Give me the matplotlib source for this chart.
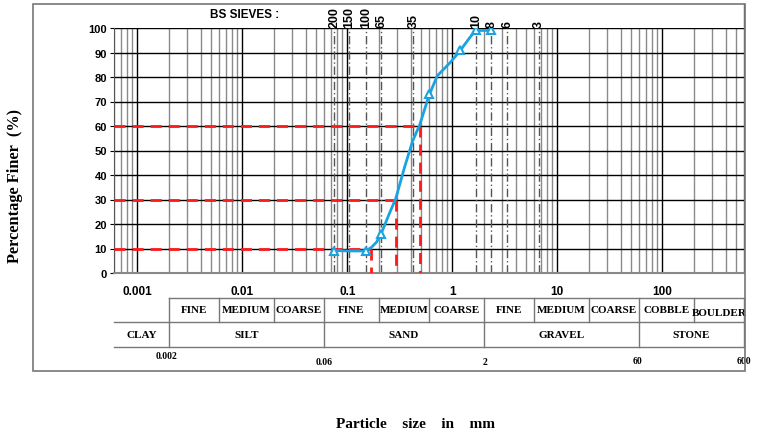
import matplotlib.pyplot as plt
import matplotlib.transforms as mtransforms
from matplotlib.patches import Rectangle
from matplotlib.ticker import LogLocator, NullFormatter, FixedLocator

# grading curve
curve_size = [0.075, 0.1, 0.15, 0.17, 0.19, 0.21, 0.25, 0.29, 0.35, 0.42, 0.49,
              0.6, 0.72, 0.96, 1.2, 1.48, 1.68, 2.36]
curve_pct = [9.2, 9.0, 9.0, 10.5, 12.6, 16.0, 24.0, 30.5, 43.0, 54.0, 60.5,
             72.5, 80.5, 86.0, 91.0, 96.3, 99.0, 99.0]

# test points (triangles)
test_size = [0.075, 0.15, 0.21, 0.6, 1.18, 1.68, 2.36]
test_pct = [9.0, 9.0, 16.0, 73.0, 91.0, 99.0, 99.0]

# BS sieves
sieve_names = ['200', '150', '100', '65', '35', '10', '8', '6', '3']
sieve_size = [0.075, 0.104, 0.152, 0.21, 0.425, 1.68, 2.36, 3.35, 6.7]

# D10, D30, D60
d_pct = [10, 30, 60]
d_size = [0.167, 0.29, 0.49]

x_ticks = [0.001, 0.01, 0.1, 1, 10, 100]
x_ticklabels = ['0.001', '0.01', '0.1', '1', '10', '100']

# classification table
sub_edges = [0.002, 0.006, 0.02, 0.06, 0.2, 0.6, 2, 6, 20, 60, 200, 600]
sub_names = ['FINE', 'MEDIUM', 'COARSE', 'FINE', 'MEDIUM', 'COARSE',
             'FINE', 'MEDIUM', 'COARSE', 'COBBLE', 'BOULDER']
main_edges = [0.0006, 0.002, 0.06, 2, 60, 600]
main_names = ['CLAY', 'SILT', 'SAND', 'GRAVEL', 'STONE']
bound_labels = ['0.002', '0.06', '2', '60', '600']

W, H = 762, 435
fig = plt.figure(figsize=(W / 100, H / 100), dpi=100)
ax = fig.add_axes([114 / W, 1 - 274 / H, 630 / W, 245 / H])

# outer frame
fig.patches.append(Rectangle((33 / W, 1 - 372 / H), 712 / W, 367 / H,
                             transform=fig.transFigure, fill=False,
                             edgecolor='#777777', linewidth=1.2))

ax.set_xscale('log')
ax.set_xlim(0.0006, 600)
ax.set_ylim(0, 100)

ax.xaxis.set_minor_locator(LogLocator(base=10, subs=range(2, 10), numticks=30))
ax.xaxis.set_minor_formatter(NullFormatter())
ax.xaxis.set_major_locator(FixedLocator(x_ticks))
ax.set_xticklabels(x_ticklabels, fontsize=8.5, fontweight='bold',
                   family='Liberation Sans')
ax.tick_params(axis='x', which='both', length=0, pad=9)
ax.set_yticks(range(0, 101, 10))
ax.set_yticklabels([str(v) for v in range(0, 101, 10)], fontsize=8,
                   fontweight='bold', family='Liberation Sans')
ax.tick_params(axis='y', length=3, pad=2)

ax.grid(which='major', axis='y', color='black', linewidth=1)
ax.grid(which='major', axis='x', color='black', linewidth=1)
ax.grid(which='minor', axis='x', color='#8a8a8a', linewidth=1)
ax.set_axisbelow(True)

ax.spines['top'].set_visible(False)
ax.spines['bottom'].set_color('#888888')
ax.spines['bottom'].set_linewidth(1.5)
ax.spines['left'].set_color('#555555')
ax.spines['right'].set_color('#555555')

bt = mtransforms.blended_transform_factory(ax.transData, ax.transAxes)

# right border going up to the frame
ax.plot([600, 600], [1.0, 1.098], transform=bt, color='#555555',
        linewidth=1, clip_on=False)

# sieve lines and labels
for name, s in zip(sieve_names, sieve_size):
    ax.plot([s, s], [0, 100], color='#555555', linewidth=1,
            linestyle=(0, (6, 2, 1, 2)), zorder=2)
    ax.text(s, 1.003, name, transform=bt, rotation=90, ha='center',
            va='bottom', fontsize=9, fontweight='bold',
            family='Liberation Sans')
ax.text(0.208, 1.057, 'BS SIEVES :', transform=ax.transAxes, ha='center',
        va='center', fontsize=8.5, fontweight='bold', family='Liberation Sans')

# D lines
for p, d in zip(d_pct, d_size):
    ax.plot([0.0006, d], [p, p], color='#ff1a1a', linewidth=2,
            linestyle=(0, (4, 2.5)), zorder=3)
    ax.plot([d, d], [p, 0], color='#ff1a1a', linewidth=2,
            linestyle=(0, (4, 2.5)), zorder=3)

# grading curve
ax.plot(curve_size, curve_pct, color='#1aa3e0', linewidth=2, zorder=4)
ax.plot(test_size, test_pct, linestyle='none', marker='^', markersize=6,
        markerfacecolor='white', markeredgecolor='#1aa3e0',
        markeredgewidth=1.5, zorder=5)

# classification table
y1, y2, y3 = -0.102, -0.200, -0.302
lc = '#777777'
ax.plot([sub_edges[0], sub_edges[-1]], [y1, y1], transform=bt, color=lc,
        linewidth=1, clip_on=False)
ax.plot([main_edges[0], main_edges[-1]], [y2, y2], transform=bt, color=lc,
        linewidth=1, clip_on=False)
ax.plot([main_edges[0], main_edges[-1]], [y3, y3], transform=bt, color=lc,
        linewidth=1, clip_on=False)
for e in sub_edges:
    ax.plot([e, e], [y1, y2], transform=bt, color=lc, linewidth=1,
            clip_on=False)
for e in main_edges[1:]:
    ax.plot([e, e], [y2, y3], transform=bt, color=lc, linewidth=1,
            clip_on=False)

tkw = dict(transform=bt, ha='center', va='center', fontsize=8,
           fontweight='bold', family='Liberation Serif', clip_on=False)
for i, name in enumerate(sub_names):
    xc = (sub_edges[i] * sub_edges[i + 1]) ** 0.5
    yy = (y1 + y2) / 2 - (0.01 if name == 'BOULDER' else 0)
    ax.text(xc, yy, name, **tkw)
for i, name in enumerate(main_names):
    xc = (main_edges[i] * main_edges[i + 1]) ** 0.5
    ax.text(xc, (y2 + y3) / 2, name, **tkw)
bound_y = [-0.338, -0.362, -0.360, -0.356, -0.356]
bound_x = [0.0019, 0.06, 2.04, 58, 600]
for b, xx, yy in zip(bound_labels, bound_x, bound_y):
    ax.text(xx, yy, b, **dict(tkw, fontsize=7))

fig.text(15 / W, 1 - 186 / H, 'Percentage Finer  (%)', rotation=90,
         ha='center', va='center', fontsize=11.8, fontweight='bold',
         family='Liberation Serif')
fig.text(416 / W, 1 - 425 / H, 'Particle    size    in    mm',
         ha='center', va='center', fontsize=11, fontweight='bold',
         family='Liberation Serif')

fig.savefig('out.png', dpi=100)
